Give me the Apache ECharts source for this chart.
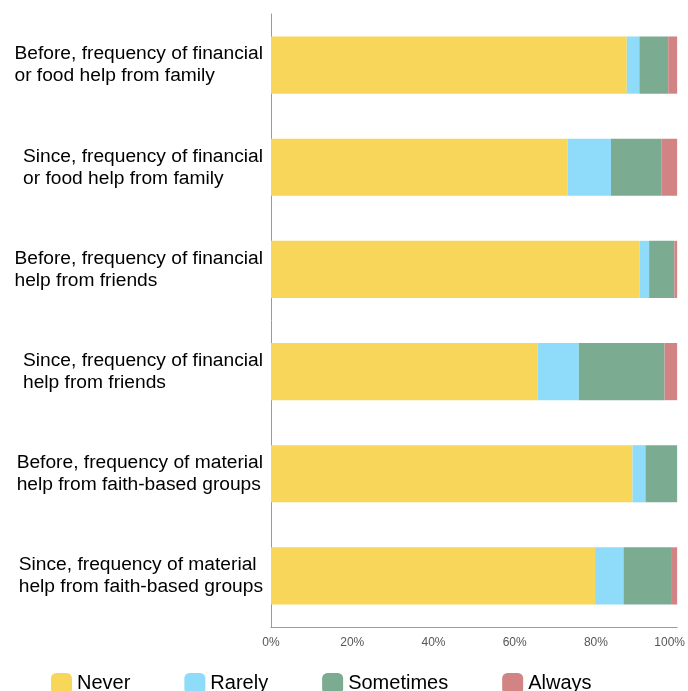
<!DOCTYPE html>
<html>
<head>
<meta charset="utf-8">
<script src="https://cdn.jsdelivr.net/npm/echarts@6/dist/echarts.min.js"></script>
<style>
  html, body { margin: 0; padding: 0; background: #fff; }
  #chart { width: 688px; height: 691px; }
</style>
</head>
<body>
<div id="chart"></div>
<script>
  // categories, top to bottom
  var categories = [
    'Before, frequency of financial\nor food help from family',
    'Since, frequency of financial\nor food help from family',
    'Before, frequency of financial\nhelp from friends',
    'Since, frequency of financial\nhelp from friends',
    'Before, frequency of material\nhelp from faith-based groups',
    'Since, frequency of material\nhelp from faith-based groups'
  ];
  // shares in percent
  var never     = [87.6, 73.0, 90.8, 65.7, 89.0, 79.8];
  var rarely    = [3.1, 10.7, 2.3, 10.1, 3.2, 7.0];
  var sometimes = [7.1, 12.5, 6.2, 21.1, 7.8, 11.7];
  var always    = [2.2, 3.8, 0.7, 3.1, 0.0, 1.5];
  var xTicks = [0, 20, 40, 60, 80, 100];

  var chart = echarts.init(document.getElementById('chart'));
  var font = 'Liberation Sans, Arial, Helvetica, sans-serif';

  function bar(name, data) {
    return {
      name: name,
      type: 'bar',
      stack: 'total',
      barWidth: '56%',
      data: data,
      emphasis: { disabled: true }
    };
  }

  chart.setOption({
    animation: false,
    textStyle: { fontFamily: font },
    color: ['#F8D65A', '#8EDCF9', '#7BAB91', '#D18483'],
    grid: { left: 271, right: 7, top: 14, bottom: 64, containLabel: false },
    legend: {
      left: 51,
      top: 673,
      padding: 0,
      icon: 'roundRect',
      itemWidth: 21,
      itemHeight: 21,
      itemGap: 54,
      textStyle: { fontSize: 20, color: '#000', fontFamily: font },
      data: ['Never', 'Rarely', 'Sometimes', 'Always']
    },
    xAxis: {
      type: 'value',
      min: xTicks[0],
      max: xTicks[xTicks.length - 1],
      interval: 20,
      axisLine: { show: true, lineStyle: { color: '#9a9a9a', width: 1 } },
      axisTick: { show: false },
      splitLine: { show: false },
      axisLabel: {
        margin: 10,
        fontSize: 12,
        color: '#555',
        formatter: function (v) {
          return v === 100 ? '{r|' + v + '%}' : v + '%';
        },
        rich: { r: { fontSize: 12, color: '#555', padding: [0, 15, 0, 0] } }
      }
    },
    yAxis: {
      type: 'category',
      inverse: true,
      data: categories,
      axisLine: { show: true, lineStyle: { color: '#9a9a9a', width: 1 } },
      axisTick: { show: false },
      axisLabel: {
        interval: 0,
        margin: 8,
        align: 'right',
        formatter: function (v) {
          return v.split('\n').map(function (s) { return '{a|' + s + '}'; }).join('\n');
        },
        rich: {
          a: { align: 'left', fontSize: 19.2, lineHeight: 22, color: '#000', fontFamily: font }
        }
      }
    },
    series: [
      bar('Never', never),
      bar('Rarely', rarely),
      bar('Sometimes', sometimes),
      bar('Always', always)
    ]
  });
</script>
</body>
</html>
